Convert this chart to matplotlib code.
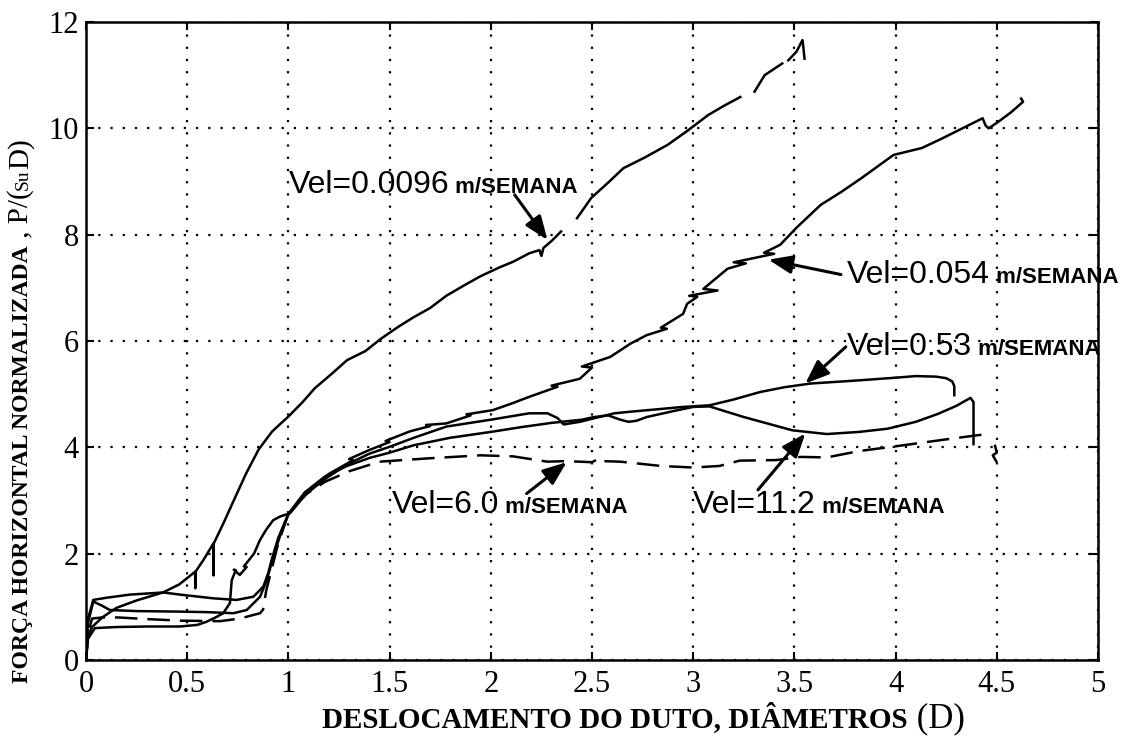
import numpy as np
import matplotlib
matplotlib.use("Agg")
import matplotlib.pyplot as plt

plt.rcParams["font.family"] = "Liberation Serif"

nan = np.nan

# Vel = 0.0096 m/semana (gaps in the trace kept as NaN)
v0096_x = [0, 0.01, 0.03, 0.08, 0.15, 0.25, 0.38, 0.46, 0.539, 0.54,
           0.541, 0.58, 0.629, 0.63, 0.631, 0.68, 0.73, 0.79, 0.853, 0.92,
           1.0, 1.07, 1.13, 1.21, 1.29, 1.38, 1.46, 1.54, 1.62, 1.7,
           1.78, 1.87, 1.95, 2.04, 2.11, 2.19, 2.24, 2.25, 2.26, 2.3,
           2.347, nan, 2.426, 2.496, 2.58, 2.655, 2.76, 2.874, 2.97, 3.074,
           3.15, 3.233, nan, 3.303, 3.353, 3.44, nan, 3.47, 3.51, 3.54,
           3.545, 3.55]
v0096_y = [0, 0.45, 0.62, 0.8, 0.98, 1.12, 1.27, 1.42, 1.66, 1.35,
           1.66, 1.88, 2.19, 1.59, 2.19, 2.58, 3.0, 3.5, 3.96, 4.3,
           4.58, 4.85, 5.11, 5.37, 5.64, 5.81, 6.05, 6.26, 6.45, 6.62,
           6.85, 7.05, 7.22, 7.38, 7.49, 7.65, 7.71, 7.6, 7.75, 7.88,
           8.06, nan, 8.31, 8.69, 8.98, 9.25, 9.45, 9.69, 9.95, 10.25,
           10.42, 10.59, nan, 10.69, 11.0, 11.22, nan, 11.28, 11.44, 11.66,
           11.5, 11.31]

# Vel = 0.054 m/semana (jagged trace)
v054_x = [0, 0.01, 0.044, 0.15, 0.3, 0.464, 0.55, 0.596, 0.64, 0.678,
          0.711, 0.72, 0.74, 0.73, 0.76, 0.794, 0.78, 0.83, 0.86, 0.89,
          0.925, 0.96, 1.008, 1.06, 1.123, 1.2, 1.32, 1.3, 1.4, 1.5,
          1.48, 1.6, 1.7, 1.68, 1.78, 1.9, 1.88, 2.01, 2.1, 2.19,
          2.33, 2.3, 2.44, 2.5, 2.45, 2.59, 2.69, 2.77, 2.87, 2.84,
          2.95, 2.97, 3.02, 2.98, 3.12, 3.05, 3.17, 3.26, 3.2, 3.4,
          3.35, 3.43, 3.51, 3.63, 3.73, 3.83, 3.99, 4.13, 4.23, 4.33,
          4.43, 4.445, 4.46, 4.51, 4.57, 4.63, 4.62]
v054_y = [0, 0.4, 0.6, 0.62, 0.63, 0.63, 0.66, 0.72, 0.8, 0.88,
          1.07, 1.5, 1.69, 1.7, 1.6, 1.75, 1.76, 2.0, 2.26, 2.45,
          2.63, 2.7, 2.76, 3.0, 3.26, 3.5, 3.76, 3.78, 3.95, 4.1,
          4.12, 4.3, 4.4, 4.42, 4.45, 4.6, 4.62, 4.7, 4.82, 4.95,
          5.14, 5.16, 5.29, 5.5, 5.52, 5.7, 5.95, 6.11, 6.23, 6.25,
          6.51, 6.7, 6.83, 6.85, 6.95, 6.98, 7.36, 7.46, 7.48, 7.64,
          7.66, 7.81, 8.13, 8.56, 8.8, 9.06, 9.5, 9.63, 9.81, 10.0,
          10.19, 10.05, 10.0, 10.13, 10.3, 10.5, 10.56]

# Vel = 0.53 m/semana
v053_x = [0, 0.008, 0.036, 0.1, 0.217, 0.382, 0.464, 0.629, 0.744, 0.827,
          0.876, 0.9, 0.917, 0.95, 1.0, 1.08, 1.18, 1.29, 1.4, 1.5,
          1.62, 1.78, 2.0, 2.19, 2.28, 2.33, 2.36, 2.44, 2.61, 2.69,
          2.95, 3.08, 3.2, 3.33, 3.45, 3.58, 3.82, 4.0, 4.1, 4.2,
          4.25, 4.28, 4.29, 4.29]
v053_y = [0, 0.75, 1.13, 1.17, 1.23, 1.27, 1.23, 1.16, 1.13, 1.19,
          1.38, 1.63, 1.88, 2.3, 2.75, 3.1, 3.4, 3.68, 3.88, 4.01,
          4.18, 4.39, 4.52, 4.64, 4.64, 4.55, 4.43, 4.48, 4.64, 4.67,
          4.76, 4.79, 4.9, 5.04, 5.13, 5.2, 5.26, 5.31, 5.34, 5.33,
          5.3, 5.24, 5.15, 4.98]

# Vel = 11.2 m/semana
v112_x = [0, 0.01, 0.036, 0.08, 0.118, 0.25, 0.464, 0.6, 0.728, 0.794,
          0.86, 0.893, 0.93, 0.96, 1.0, 1.08, 1.18, 1.29, 1.4, 1.5,
          1.62, 1.8, 2.0, 2.15, 2.3, 2.45, 2.51, 2.58, 2.64, 2.68,
          2.72, 2.77, 2.9, 3.0, 3.08, 3.25, 3.49, 3.66, 3.82, 3.96,
          4.1, 4.21, 4.3, 4.37, 4.385, 4.385]
v112_y = [0, 0.7, 1.1, 1.02, 0.94, 0.92, 0.91, 0.9, 0.88, 0.94,
          1.19, 1.5, 2.0, 2.35, 2.75, 3.15, 3.45, 3.65, 3.8, 3.9,
          4.04, 4.18, 4.29, 4.38, 4.46, 4.52, 4.57, 4.6, 4.52, 4.48,
          4.5, 4.57, 4.68, 4.76, 4.77, 4.57, 4.32, 4.25, 4.29, 4.35,
          4.48, 4.63, 4.78, 4.93, 4.85, 4.06]

# Vel = 6.0 m/semana (dashed)
v60_x = [0, 0.01, 0.03, 0.08, 0.16, 0.3, 0.464, 0.662, 0.76, 0.86,
         0.875, 0.89, 0.91, 0.95, 1.0, 1.08, 1.18, 1.3, 1.45, 1.68,
         1.95, 2.11, 2.28, 2.36, 2.44, 2.5, 2.54, 2.56, 2.64, 2.84,
         3.0, 3.13, 3.23, 3.41, 3.53, 3.66, 3.82, 4.04, 4.25, 4.47,
         nan, 4.49, 4.5, 4.48, 4.5]
v60_y = [0, 0.5, 0.78, 0.8, 0.8, 0.77, 0.74, 0.73, 0.78, 0.88,
         0.95, 1.3, 1.6, 2.2, 2.75, 3.1, 3.35, 3.55, 3.73, 3.79,
         3.85, 3.83, 3.73, 3.74, 3.73, 3.72, 3.8, 3.74, 3.73, 3.65,
         3.62, 3.65, 3.75, 3.76, 3.82, 3.81, 3.93, 4.04, 4.15, 4.26,
         nan, 4.05, 3.9, 3.85, 3.72]

x_ticks = [0, 0.5, 1, 1.5, 2, 2.5, 3, 3.5, 4, 4.5, 5]
x_tick_labels = ["0", "0.5", "1", "1.5", "2", "2.5", "3", "3.5", "4", "4.5", "5"]
y_ticks = [0, 2, 4, 6, 8, 10, 12]

# label text, label baseline start, arrow tail, arrow head
labels = [
    ("Vel=0.0096", (1.0, 8.78), (2.118, 8.75), (2.28, 7.9)),
    ("Vel=0.054", (3.76, 7.09), (3.73, 7.25), (3.372, 7.53)),
    ("Vel=0.53", (3.76, 5.73), (3.754, 5.89), (3.554, 5.2)),
    ("Vel=6.0", (1.51, 2.76), (2.177, 3.13), (2.375, 3.72)),
    ("Vel=11.2", (3.0, 2.76), (3.32, 3.2), (3.554, 4.26)),
]
unit = " m/SEMANA"

W, H = 1128, 739
fig = plt.figure(figsize=(W / 100, H / 100), dpi=100)
ax = fig.add_axes([86 / W, 1 - 660 / H, (1098 - 86) / W, (660 - 22) / H])

lw = 1.8
ax.plot(v0096_x, v0096_y, color="black", lw=lw)
ax.plot(v054_x, v054_y, color="black", lw=lw)
ax.plot(v053_x, v053_y, color="black", lw=lw)
ax.plot(v112_x, v112_y, color="black", lw=lw)
ax.plot(v60_x, v60_y, color="black", lw=lw, linestyle=(0, (9, 4)))

ax.set_xlim(0, 5)
ax.set_ylim(0, 12)
ax.set_xticks(x_ticks)
ax.set_xticklabels(x_tick_labels)
ax.set_yticks(y_ticks)
ax.grid(True, color="black", linestyle=(0, (1, 4.5)), linewidth=1.6)
ax.tick_params(direction="in", length=6, width=1.5, top=True, right=True,
               labelsize=22)
ax.tick_params(axis="x", pad=7)
ax.tick_params(axis="y", pad=5)
for s in ax.spines.values():
    s.set_linewidth(1.8)

renderer = fig.canvas.get_renderer()


def put_pieces(x_px, y_px, pieces, rotation=0):
    # lay out text pieces one after another on a shared baseline
    for s, size, weight, family in pieces:
        t = fig.text(x_px / W, y_px / H, s, fontsize=size, fontweight=weight,
                     family=family, rotation=rotation, rotation_mode="anchor",
                     ha="left", va="baseline")
        bb = t.get_window_extent(renderer)
        if rotation == 90:
            y_px = bb.y1
        else:
            x_px = bb.x1


sans = "Liberation Sans"
for text, pos, tail, head in labels:
    px, py = ax.transData.transform(pos)
    put_pieces(px, py, [(text, 23, "normal", sans), (unit, 16, "bold", sans)])
    ax.annotate("", xy=head, xytext=tail,
                arrowprops=dict(arrowstyle="-|>,head_length=0.9,head_width=0.35",
                                color="black", lw=2.2, shrinkA=0, shrinkB=0,
                                mutation_scale=16))

serif = "Liberation Serif"
put_pieces(322, H - 727, [("DESLOCAMENTO DO DUTO, DIÂMETROS", 21, "bold", serif),
                          (" (D)", 25, "normal", serif)])
put_pieces(28, H - 683, [("FORÇA HORIZONTAL NORMALIZADA", 17, "bold", serif),
                         (" , P/(", 21, "normal", serif),
                         ("Su", 14, "normal", serif),
                         ("D)", 21, "normal", serif)], rotation=90)

fig.savefig("out.png", dpi=100, facecolor="white")
